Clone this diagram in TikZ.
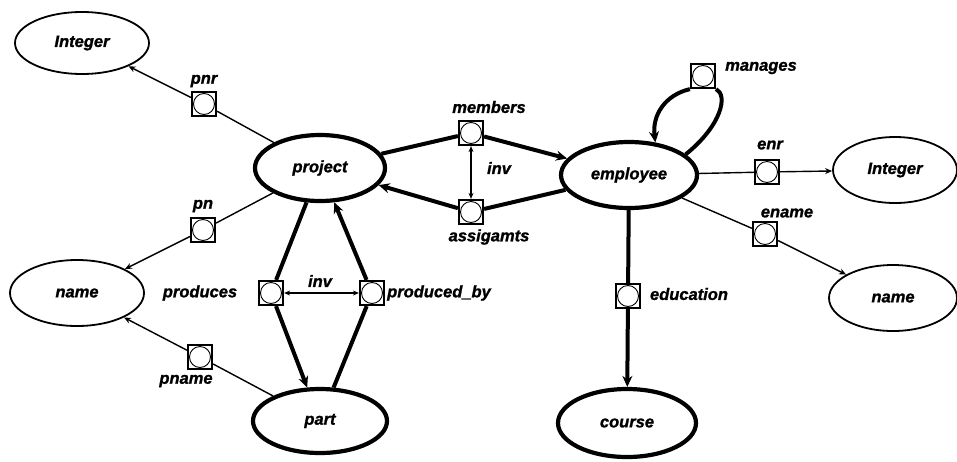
\documentclass[tikz,border=0pt]{standalone}
\usepackage{fontspec}
\setmainfont{Liberation Sans}
\newfontfamily\lblfont{Liberation Sans}[FakeBold=1.2]
\usetikzlibrary{shapes.geometric,arrows.meta}
\begin{document}
\begin{tikzpicture}[x=1pt,y=-1pt,
  font=\fontsize{16.5}{18}\lblfont\bfseries\itshape,
  ent/.style={ellipse,draw,line width=1.8pt,inner sep=0pt,minimum width=#1},
  ent/.default=134pt,
  bigent/.style={ellipse,draw,line width=4.2pt,inner sep=0pt,minimum width=#1},
  bigent/.default=132pt,
  attr/.style={draw,line width=2.2pt,minimum size=24pt,inner sep=0pt,fill=white,
    path picture={\draw[line width=0.9pt] (path picture bounding box.center) circle (10.5pt);}},
  lbl/.style={inner sep=0pt},
  thinln/.style={line width=1.4pt},
  thickln/.style={line width=4pt},
  tipA/.style={-{Stealth[length=7pt,width=6pt]}},
  tipB/.style={-{Stealth[length=11pt,width=10pt]}},
  tipAB/.style={{Stealth[length=6pt,width=5pt]}-{Stealth[length=6pt,width=5pt]}}
]
\useasboundingbox (0,0) rectangle (957,461);
% entities
\node[ent,minimum height=62pt] (int1) at (82,43) {Integer};
\node[bigent=130pt,minimum height=66pt] (project) at (320,168) {project};
\node[bigent=136pt,minimum height=66pt] (employee) at (629,175) {employee};
\node[ent=124pt,minimum height=66pt] (int2) at (895,170) {Integer};
\node[ent=134pt,minimum height=66pt] (name1) at (77,293) {name};
\node[ent=128pt,minimum height=66pt] (name2) at (893,298) {name};
\node[bigent=134pt,minimum height=64pt] (part) at (320,421) {part};
\node[bigent=138pt,minimum height=68pt] (course) at (627,423) {course};
% attribute boxes
\node[attr] (pnr) at (204,104) {};
\node[attr] (pn) at (203,230) {};
\node[attr] (pname) at (200,357) {};
\node[attr] (produces) at (271,293) {};
\node[attr] (producedby) at (372,293) {};
\node[attr] (members) at (471,133) {};
\node[attr] (assigamts) at (471,212) {};
\node[attr] (manages) at (703,76) {};
\node[attr] (enr) at (767,172) {};
\node[attr] (ename) at (765,234) {};
\node[attr] (education) at (628,296) {};
% labels
\node[lbl] (lpnr) at (204,81) {pnr};
\node[lbl] (lpn) at (203,206) {pn};
\node[lbl] (lpname) at (186,381) {pname};
\node[lbl] (lproduces) at (200,293) {produces};
\node[lbl] (lproducedby) at (439,293) {produced\_by};
\node[lbl] (linv1) at (320,281) {inv};
\node[lbl] (lmembers) at (489,107) {members};
\node[lbl] (lassigamts) at (489,237) {assigamts};
\node[lbl] (linv2) at (499,168) {inv};
\node[lbl] (lmanages) at (761,68) {manages};
\node[lbl] (lenr) at (770,145) {enr};
\node[lbl] (lename) at (787,213) {ename};
\node[lbl] (leducation) at (689,294) {education};
% connectors
\draw[thinln] (project) -- (pnr);
\draw[thinln,tipA] (pnr) -- (int1);
\draw[thinln] (project) -- (pn);
\draw[thinln,tipA] (pn) -- (name1);
\draw[thinln] (part) -- (pname);
\draw[thinln,tipA] (pname) -- (name1);
\draw[thickln] (project) -- (members);
\draw[thickln,tipB] (members) -- (employee);
\draw[thickln] (employee) -- (assigamts);
\draw[thickln,tipB] (assigamts) -- (project);
\draw[thinln,tipAB] (members) -- (assigamts);
\draw[thickln] (project) -- (produces);
\draw[thickln,tipB] (produces) -- (part);
\draw[thickln] (part) -- (producedby);
\draw[thickln,tipB] (producedby) -- (project);
\draw[thinln,tipAB] (produces) -- (producedby);
\draw[thickln] (employee.20) .. controls (722,125) and (728,95) .. (manages.south east);
\draw[thickln,tipB] (manages.south west) .. controls (665,95) and (652,115) .. (employee.51);
\draw[thinln] (employee) -- (enr);
\draw[thinln,tipA] (enr) -- (int2);
\draw[thinln] (employee) -- (ename);
\draw[thinln,tipA] (ename) -- (name2);
\draw[thickln] (employee) -- (education);
\draw[thickln,tipB] (education) -- (course);
\end{tikzpicture}
\end{document}
